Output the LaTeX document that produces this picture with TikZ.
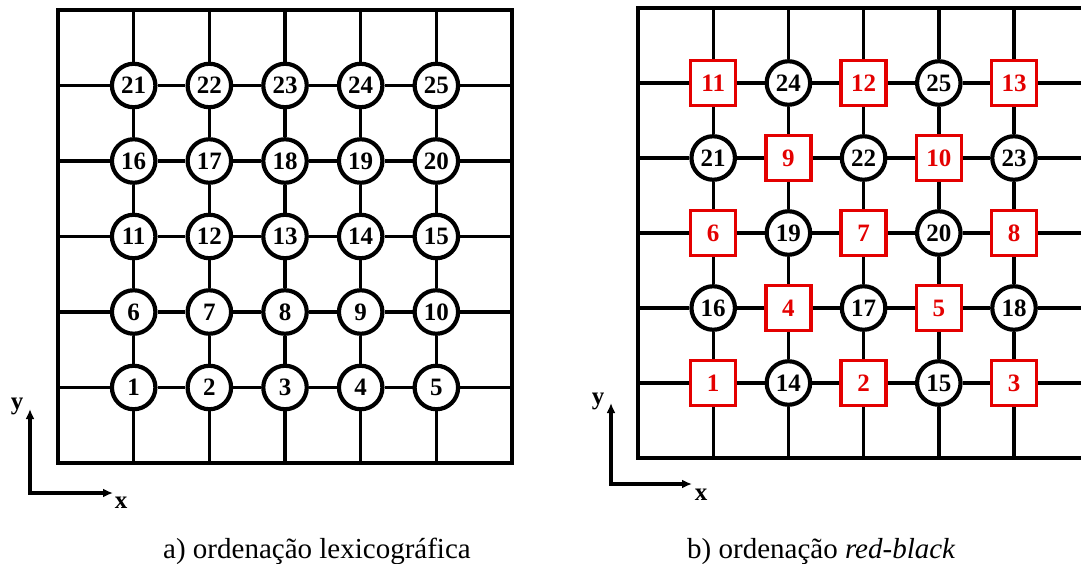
\documentclass[tikz,border=0pt]{standalone}
\usepackage{fontspec}
\setmainfont{Liberation Serif}
\usetikzlibrary{arrows.meta}
\definecolor{rbred}{RGB}{228,0,0}

\begin{document}
\begin{tikzpicture}[x=1pt,y=-1pt,
  grid/.style={line width=3.4pt,line join=miter},
  numfont/.style={font=\fontsize{25}{25}\selectfont\bfseries},
  blackcell/.style={circle,draw=black,line width=4.2pt,minimum size=43.5pt,
    inner sep=0pt,fill=white,numfont},
  redcell/.style={rectangle,draw=rbred,text=rbred,line width=3.4pt,
    minimum size=45pt,inner sep=0pt,fill=white,numfont},
  axis/.style={line width=3.4pt,line join=miter,
    {Latex[length=10pt,width=9pt]}-{Latex[length=10pt,width=9pt]}},
  axislabel/.style={font=\fontsize{25}{25}\selectfont\bfseries,anchor=base,inner sep=0pt},
  caption/.style={font=\fontsize{29}{29}\selectfont,anchor=base west,inner sep=0pt}]
\useasboundingbox (0,0) rectangle (1081,564);

% ---------- a) lexicographic ordering ----------
\draw[grid] (58,10) rectangle (512,463);
\foreach \i in {1,...,5} {
  \coordinate (Lt-\i) at ({58+75.67*\i},10);
  \coordinate (Lb-\i) at ({58+75.67*\i},463);
  \coordinate (Ll-\i) at (58,{10+75.5*\i});
  \coordinate (Lr-\i) at (512,{10+75.5*\i});
}
\foreach \r in {1,...,5} {
  \foreach \c in {1,...,5} {
    \pgfmathtruncatemacro\n{(5-\r)*5+\c}
    \node[blackcell] (L-\r-\c) at ({58+75.67*\c},{10+75.5*\r}) {\n};
  }
}
\foreach \i in {1,...,5} {
  \draw[grid] (Ll-\i) -- (L-\i-1);
  \draw[grid] (L-\i-5) -- (Lr-\i);
  \draw[grid] (Lt-\i) -- (L-1-\i);
  \draw[grid] (L-5-\i) -- (Lb-\i);
  \foreach \j in {1,...,4} {
    \pgfmathtruncatemacro\nx{\j+1}
    \draw[grid] (L-\i-\j) -- (L-\i-\nx);
    \draw[grid] (L-\j-\i) -- (L-\nx-\i);
  }
}

\coordinate (La)  at (30,493);
\coordinate (Lay) at (30,409);
\coordinate (Lax) at (113,493);
\draw[axis] (Lay) -- (La) -- (Lax);
\node[axislabel] (Lylab) at (17,409) {y};
\node[axislabel] (Lxlab) at (121,508) {x};

\node[caption] (capA) at (163,558) {a) ordenação lexicográfica};

% ---------- b) red-black ordering ----------
\begin{scope}
\clip (0,0) rectangle (1081,564);
\draw[grid] (638,8) rectangle (1089,458);
\foreach \i in {1,...,5} {
  \coordinate (Rt-\i) at ({638+75.2*\i},8);
  \coordinate (Rb-\i) at ({638+75.2*\i},458);
  \coordinate (Rl-\i) at (638,{8+75*\i});
  \coordinate (Rr-\i) at (1089,{8+75*\i});
}
\foreach \r/\c/\n/\k in {
  1/1/11/red, 1/2/24/black, 1/3/12/red, 1/4/25/black, 1/5/13/red,
  2/1/21/black, 2/2/9/red, 2/3/22/black, 2/4/10/red, 2/5/23/black,
  3/1/6/red, 3/2/19/black, 3/3/7/red, 3/4/20/black, 3/5/8/red,
  4/1/16/black, 4/2/4/red, 4/3/17/black, 4/4/5/red, 4/5/18/black,
  5/1/1/red, 5/2/14/black, 5/3/2/red, 5/4/15/black, 5/5/3/red} {
  \node[\k cell] (R-\r-\c) at ({638+75.2*\c},{8+75*\r}) {\n};
}
\foreach \i in {1,...,5} {
  \draw[grid] (Rl-\i) -- (R-\i-1);
  \draw[grid] (R-\i-5) -- (Rr-\i);
  \draw[grid] (Rt-\i) -- (R-1-\i);
  \draw[grid] (R-5-\i) -- (Rb-\i);
  \foreach \j in {1,...,4} {
    \pgfmathtruncatemacro\nx{\j+1}
    \draw[grid] (R-\i-\j) -- (R-\i-\nx);
    \draw[grid] (R-\j-\i) -- (R-\nx-\i);
  }
}
\end{scope}

\coordinate (Ra)  at (611,484);
\coordinate (Ray) at (611,403);
\coordinate (Rax) at (692,484);
\draw[axis] (Ray) -- (Ra) -- (Rax);
\node[axislabel] (Rylab) at (598,404) {y};
\node[axislabel] (Rxlab) at (701,500) {x};

\node[caption] (capB) at (687,558) {b) ordenação \textit{red-black}};
\end{tikzpicture}
\end{document}
